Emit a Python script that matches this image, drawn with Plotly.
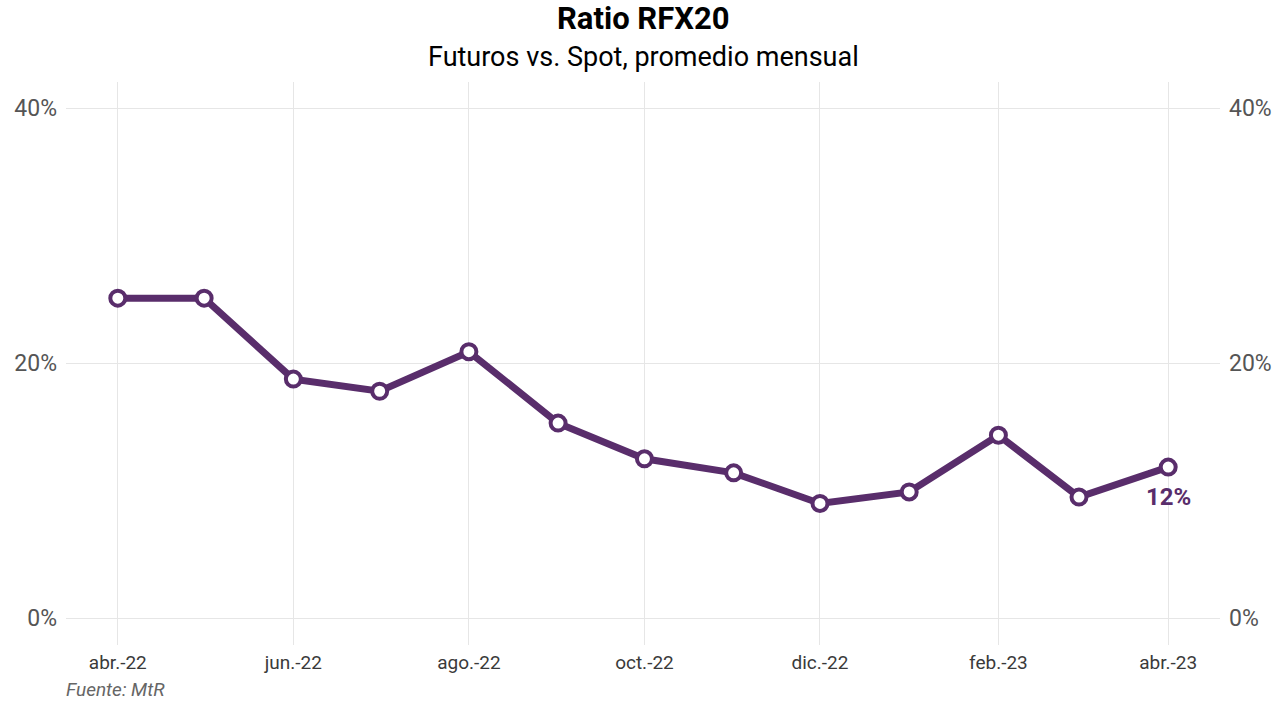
import plotly.graph_objects as go

months = ["2022-04-01", "2022-05-01", "2022-06-01", "2022-07-01", "2022-08-01", "2022-09-01",
          "2022-10-01", "2022-11-01", "2022-12-01", "2023-01-01", "2023-02-01", "2023-03-01",
          "2023-04-01"]
ratio = [25.1, 25.1, 18.75, 17.8, 20.9, 15.3, 12.5, 11.4, 9.0, 9.9, 14.35, 9.5, 11.85]
tick_dates = ["2022-04-01", "2022-06-01", "2022-08-01", "2022-10-01", "2022-12-01",
              "2023-02-01", "2023-04-01"]
tick_labels = ["abr.-22", "jun.-22", "ago.-22", "oct.-22", "dic.-22", "feb.-23", "abr.-23"]
y_ticks = [0, 20, 40]
y_tick_labels = ["0%", "20%", "40%"]
last_label = "12%"

purple = "#592d6b"
font = "Roboto"

fig = go.Figure()
fig.add_trace(go.Scatter(
    x=months, y=ratio, mode="lines+markers",
    line=dict(color=purple, width=7),
    marker=dict(size=15, color="white", line=dict(color=purple, width=4)),
    hoverinfo="skip", showlegend=False, cliponaxis=False,
))
# invisible trace for the right-hand axis
fig.add_trace(go.Scatter(
    x=months, y=ratio, mode="lines", yaxis="y2",
    line=dict(width=0, color="rgba(0,0,0,0)"),
    hoverinfo="skip", showlegend=False,
))

fig.add_annotation(
    x=months[-1], y=ratio[-1], text="<b>" + last_label + "</b>", showarrow=False,
    yshift=-30, font=dict(family=font, size=24, color=purple),
)

fig.update_layout(
    width=1284, height=701,
    paper_bgcolor="white", plot_bgcolor="white",
    margin=dict(l=66, r=62, t=82, b=56),
    xaxis=dict(
        type="date", range=["2022-03-14", "2023-04-19"],
        tickvals=tick_dates, ticktext=tick_labels,
        showgrid=True, gridcolor="#e6e6e6", gridwidth=1, zeroline=False,
        showline=False, ticks="", tickfont=dict(family=font, size=19, color="#3a3a3a"),
        ticklabelstandoff=4,
    ),
    yaxis=dict(
        range=[-2.1, 42.05], tickvals=y_ticks, ticktext=y_tick_labels,
        showgrid=True, gridcolor="#e6e6e6", gridwidth=1, zeroline=False,
        showline=False, ticks="", tickfont=dict(family=font, size=23, color="#555555"),
        ticklabelstandoff=8,
    ),
    yaxis2=dict(
        range=[-2.1, 42.05], tickvals=y_ticks, ticktext=y_tick_labels,
        overlaying="y", side="right", showgrid=False, zeroline=False,
        showline=False, ticks="", tickfont=dict(family=font, size=23, color="#555555"),
        ticklabelstandoff=8,
    ),
    font=dict(family=font),
)

fig.add_annotation(
    text="<b>Ratio RFX20</b>", xref="paper", yref="paper", x=0.5, y=1,
    xanchor="center", yanchor="middle", yshift=64, showarrow=False,
    font=dict(family=font, size=31, color="black"),
)
fig.add_annotation(
    text="Futuros vs. Spot, promedio mensual", xref="paper", yref="paper", x=0.5, y=1,
    xanchor="center", yanchor="middle", yshift=25, showarrow=False,
    font=dict(family=font, size=27, color="black"),
)
fig.add_annotation(
    text="<i>Fuente: MtR</i>", xref="paper", yref="paper", x=0, y=0,
    xanchor="left", yanchor="middle", yshift=-44, xshift=-2, showarrow=False,
    font=dict(family=font, size=19, color="#666666"),
)

fig.write_html("out.html", config={"displayModeBar": False},
               post_script="document.body.style.margin='0';")
